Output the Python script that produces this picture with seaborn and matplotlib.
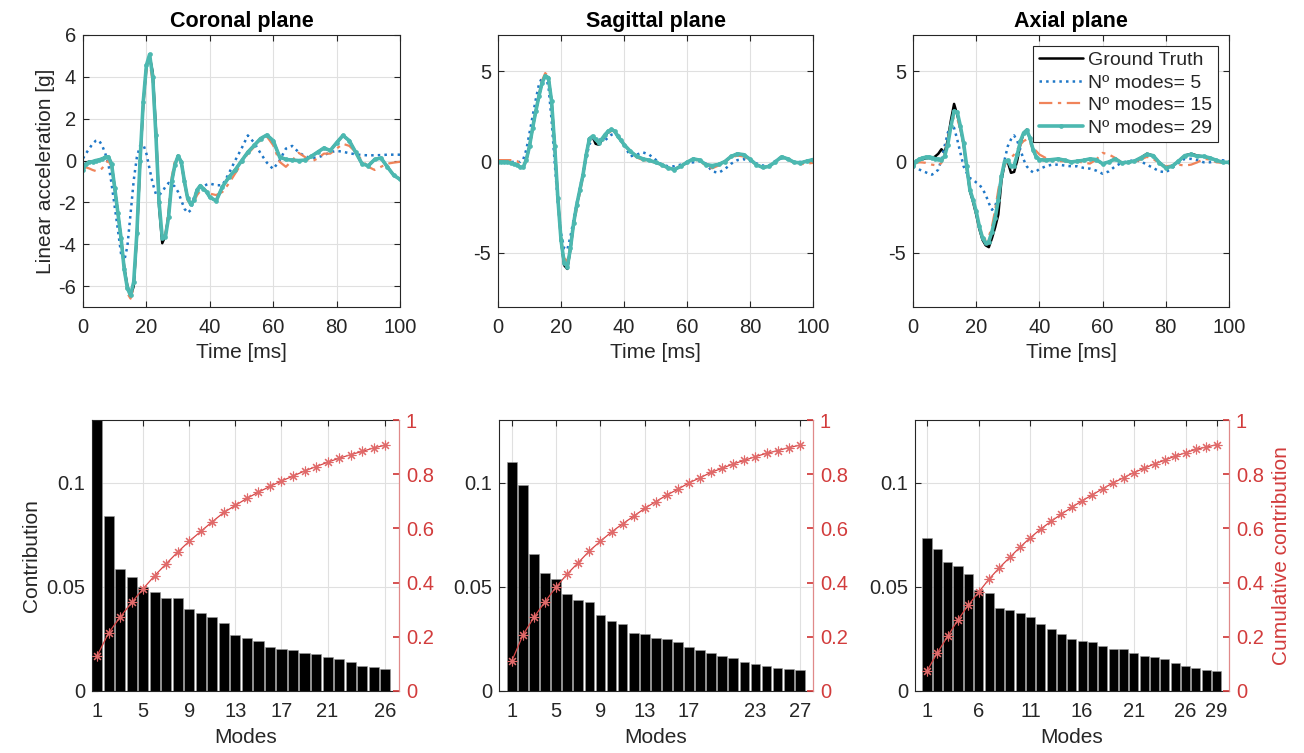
import numpy as np
import matplotlib
matplotlib.use("Agg")
import matplotlib.pyplot as plt
import seaborn as sns

# time axis shared by all signal curves [ms]
time_ms = list(range(0, 41)) + list(range(42, 101, 2))

# ---- Coronal plane signals [g] ----
cor_truth = [-0.5, -0.1, -0.05, -0.05, 0.0, 0.03, 0.08, 0.15, 0.18, -0.15,
             -1.3, -2.5, -3.7, -5.1, -6.0, -6.5, -6.0, -3.6, -0.1, 2.7,
             4.5, 5.0, 4.2, 1.5, -2.2, -3.95, -3.6, -2.6, -1.0, -0.2,
             0.22, -0.06, -1.0, -1.8, -2.1, -1.9, -1.4, -1.2, -1.35, -1.5,
             -1.75,
             -1.93, -1.25, -0.8, -0.45, -0.02, 0.4, 0.72, 1.05, 1.22, 0.95,
             0.18, 0.05, 0.02, 0.0, 0.02, 0.2, 0.4, 0.6, 0.48, 0.85,
             1.2, 0.95, 0.4, -0.15, -0.25, 0.05, 0.12, -0.3, -0.7, -0.9]
cor_five = [0.1, 0.35, 0.57, 0.8, 0.94, 0.97, 0.73, 0.35, -0.15, -1.1,
            -2.2, -3.3, -4.45, -4.8, -4.1, -2.55, -0.95, 0.17, 0.7, 0.78,
            0.33, -0.4, -1.1, -1.6, -1.65, -1.5, -1.25, -1.07, -1.13, -1.25,
            -1.5, -1.9, -2.3, -2.5, -2.37, -1.75, -1.42, -1.3, -1.23, -1.15,
            -1.1,
            -1.18, -1.18, -0.62, 0.0, 0.57, 1.2, 0.85, 0.35, -0.1, -0.41,
            0.0, 0.57, 0.7, 0.4, 0.2, 0.12, 0.15, 0.25, 0.4, 0.46,
            0.42, 0.35, 0.3, 0.26, 0.25, 0.25, 0.26, 0.28, 0.28, 0.28]
cor_fifteen = [-0.3, -0.33, -0.38, -0.45, -0.5, -0.45, -0.38, -0.15, 0.0, -0.3,
               -1.25, -2.5, -3.8, -5.2, -6.35, -6.6, -6.05, -3.65, -0.3, 2.55,
               4.3, 4.7, 3.75, 0.97, -1.9, -3.65, -3.5, -2.37, -0.78, 0.0,
               0.25, -0.15, -1.1, -1.9, -2.1, -1.97, -1.65, -1.45, -1.35, -1.45,
               -1.58,
               -1.65, -1.5, -1.1, -0.62, -0.15, 0.33, 0.65, 0.97, 1.15, 0.73,
               -0.06, -0.3, 0.0, 0.37, 0.17, -0.06, 0.1, 0.33, 0.33, 0.57,
               0.8, 0.7, 0.41, 0.0, -0.3, -0.45, -0.3, -0.15, -0.1, -0.06]
cor_full = [-0.43, -0.15, -0.08, -0.05, 0.0, 0.03, 0.08, 0.15, 0.18, -0.15,
            -1.3, -2.5, -3.7, -5.2, -6.1, -6.45, -5.8, -3.45, 0.0, 2.8,
            4.55, 5.07, 4.0, 1.2, -2.0, -3.7, -3.65, -2.7, -1.0, -0.2,
            0.22, -0.06, -1.0, -1.8, -2.1, -1.9, -1.4, -1.2, -1.35, -1.5,
            -1.75,
            -1.93, -1.25, -0.8, -0.45, -0.02, 0.4, 0.72, 1.05, 1.22, 0.95,
            0.18, 0.05, 0.02, 0.0, 0.02, 0.2, 0.4, 0.6, 0.48, 0.85,
            1.2, 0.95, 0.4, -0.15, -0.25, 0.05, 0.12, -0.3, -0.7, -0.9]

# ---- Sagittal plane signals [g] ----
sag_truth = [0.0, 0.0, 0.0, -0.02, -0.05, -0.1, -0.15, -0.28, -0.3, 0.13,
             0.87, 1.88, 2.8, 3.63, 4.37, 4.74, 4.65, 3.36, 0.87, -2.0,
             -4.3, -5.7, -5.9, -4.8, -3.4, -2.4, -1.55, -0.7, 0.4, 1.3,
             1.4, 1.0, 0.95, 1.2, 1.45, 1.65, 1.75, 1.7, 1.42, 1.2,
             0.96,
             0.59, 0.31, 0.17, 0.09, -0.02, -0.15, -0.33, -0.42, -0.24, -0.02,
             0.17, 0.1, -0.15, -0.2, -0.14, 0.02, 0.3, 0.45, 0.4, 0.15,
             -0.15, -0.3, -0.25, 0.0, 0.28, 0.17, -0.02, -0.05, 0.04, 0.13]
sag_five = [0.0, 0.0, 0.0, 0.0, 0.0, 0.0, 0.0, 0.0, 0.13, 0.68,
            1.6, 2.53, 3.45, 4.28, 4.65, 4.7, 4.2, 2.34, -0.05, -2.27,
            -3.93, -4.76, -4.85, -4.1, -3.2, -2.27, -1.44, -0.6, 0.22, 0.96,
            1.27, 1.26, 1.24, 1.22, 1.2, 1.35, 1.5, 1.55, 1.5, 1.25,
            0.96,
            0.31, 0.4, 0.53, 0.4, 0.13, -0.15, -0.24, -0.24, -0.15, -0.05,
            -0.02, 0.04, -0.09, -0.52, -0.6, -0.4, -0.1, 0.1, 0.15, 0.05,
            -0.08, -0.2, -0.2, 0.05, 0.2, 0.15, 0.0, 0.0, 0.05, 0.13]
sag_fifteen = [0.1, 0.1, 0.1, 0.1, 0.1, 0.08, 0.05, -0.1, -0.2, 0.1,
               0.8, 1.8, 2.8, 3.7, 4.5, 4.9, 4.7, 3.3, 0.8, -2.0,
               -4.2, -5.3, -5.5, -4.6, -3.5, -2.6, -1.7, -0.8, 0.3, 1.2,
               1.4, 1.3, 1.15, 1.25, 1.45, 1.6, 1.7, 1.65, 1.45, 1.2,
               0.95,
               0.55, 0.25, 0.1, 0.05, -0.05, -0.2, -0.35, -0.4, -0.2, 0.0,
               0.15, 0.05, -0.2, -0.35, -0.2, 0.0, 0.25, 0.35, 0.3, 0.1,
               -0.15, -0.3, -0.25, 0.0, 0.3, 0.15, -0.05, -0.12, -0.1, -0.05]
sag_full = [0.0, 0.0, 0.0, -0.02, -0.05, -0.1, -0.15, -0.28, -0.3, 0.13,
            0.87, 1.88, 2.8, 3.63, 4.37, 4.74, 4.65, 3.36, 0.87, -2.0,
            -4.3, -5.55, -5.78, -4.76, -3.38, -2.36, -1.53, -0.7, 0.4, 1.27,
            1.42, 1.24, 1.05, 1.27, 1.51, 1.7, 1.79, 1.7, 1.42, 1.2,
            0.96,
            0.59, 0.31, 0.17, 0.09, -0.02, -0.15, -0.33, -0.42, -0.24, -0.02,
            0.17, 0.1, -0.15, -0.2, -0.14, 0.02, 0.3, 0.45, 0.4, 0.15,
            -0.15, -0.3, -0.25, 0.0, 0.28, 0.17, -0.02, -0.05, 0.04, 0.13]

# ---- Axial plane signals [g] ----
axi_truth = [-0.3, 0.05, 0.12, 0.15, 0.2, 0.22, 0.2, 0.3, 0.45, 0.7,
             0.5, 1.2, 2.3, 3.2, 2.6, 1.9, 1.0, -0.3, -1.6, -2.2,
             -2.9, -3.7, -4.3, -4.6, -4.7, -4.2, -3.6, -2.9, -1.0, -0.1,
             0.0, -0.6, -0.55, 0.1, 1.0, 1.6, 1.78, 1.3, 0.65, 0.28,
             0.13,
             0.1, 0.13, 0.15, 0.1, 0.0, 0.05, 0.1, 0.15, 0.12, -0.1,
             0.0, 0.17, -0.05, -0.02, 0.04, 0.22, 0.45, 0.35, -0.05, -0.3,
             -0.24, 0.04, 0.35, 0.45, 0.35, 0.3, 0.22, 0.09, -0.02, -0.02]
axi_five = [-0.24, -0.33, -0.42, -0.5, -0.57, -0.65, -0.7, -0.6, -0.42, 0.13,
            0.87, 1.6, 2.06, 1.88, 1.24, 0.5, -0.24, -0.61, -0.89, -0.98,
            -1.13, -1.25, -1.49, -1.81, -2.27, -2.64, -2.45, -1.81, -0.79, 0.13,
            0.87, 1.24, 1.46, 1.15, 0.68, 0.13, -0.24, -0.46, -0.57, -0.52,
            -0.39,
            -0.24, -0.15, -0.15, -0.2, -0.24, -0.24, -0.33, -0.37, -0.48, -0.65,
            -0.52, -0.24, -0.05, 0.04, 0.09, 0.04, -0.15, -0.33, -0.52, -0.57,
            -0.33, -0.05, 0.17, 0.17, 0.09, -0.02, -0.02, 0.04, 0.09, 0.04]
axi_fifteen = [-0.15, -0.05, -0.02, -0.03, -0.05, -0.1, -0.15, -0.18, -0.2, -0.05,
               0.41, 1.24, 2.06, 2.49, 2.38, 1.79, 0.87, -0.24, -1.35, -2.08,
               -2.82, -3.56, -4.11, -4.3, -4.11, -3.56, -2.64, -1.53, -0.61, -0.15,
               0.04, 0.22, 0.41, 0.68, 0.96, 1.15, 1.24, 1.05, 0.78, 0.6,
               0.41,
               0.22, 0.09, 0.04, 0.04, -0.02, 0.04, -0.05, -0.09, 0.13, 0.5,
               0.41, 0.22, -0.02, -0.05, -0.02, 0.13, 0.28, 0.17, -0.09, -0.24,
               -0.2, -0.15, -0.2, -0.15, -0.02, 0.17, 0.13, -0.02, -0.05, -0.02]
axi_full = [-0.24, 0.04, 0.15, 0.22, 0.26, 0.28, 0.24, 0.18, 0.15, 0.13,
            0.31, 0.96, 1.97, 2.8, 2.75, 1.97, 1.05, -0.24, -1.53, -2.08,
            -2.73, -3.56, -4.2, -4.48, -4.39, -3.84, -3.1, -2.08, -0.79, 0.04,
            0.09, -0.24, -0.2, 0.41, 1.15, 1.6, 1.75, 1.33, 0.68, 0.28,
            0.13,
            0.09, 0.13, 0.17, 0.09, 0.0, 0.04, 0.09, 0.17, 0.13, -0.1,
            0.0, 0.17, -0.05, -0.02, 0.04, 0.22, 0.41, 0.35, -0.05, -0.33,
            -0.24, 0.04, 0.35, 0.41, 0.31, 0.31, 0.22, 0.09, -0.02, -0.02]

# ---- Mode contributions ----
cor_contrib = [0.131, 0.084, 0.0583, 0.0548, 0.050, 0.0476, 0.0447, 0.0444, 0.0393, 0.0372,
               0.0353, 0.0327, 0.0267, 0.0256, 0.0241, 0.0211, 0.0200, 0.0196, 0.0182, 0.0176,
               0.0161, 0.0153, 0.0137, 0.0120, 0.0113, 0.0105]
cor_cumul = [0.130, 0.215, 0.273, 0.327, 0.378, 0.426, 0.470, 0.513, 0.553, 0.589,
             0.625, 0.659, 0.685, 0.711, 0.734, 0.755, 0.775, 0.793, 0.812, 0.828,
             0.844, 0.859, 0.872, 0.884, 0.897, 0.907]
sag_contrib = [0.110, 0.099, 0.0657, 0.0567, 0.0538, 0.0465, 0.0435, 0.0427, 0.0363, 0.0335,
               0.0323, 0.0280, 0.0275, 0.0256, 0.0248, 0.0233, 0.0212, 0.0196, 0.0182, 0.0166,
               0.0157, 0.0141, 0.0131, 0.0118, 0.0109, 0.0105, 0.0101]
sag_cumul = [0.112, 0.207, 0.273, 0.330, 0.384, 0.432, 0.474, 0.517, 0.553, 0.587,
             0.617, 0.645, 0.674, 0.699, 0.723, 0.745, 0.768, 0.787, 0.807, 0.822,
             0.838, 0.851, 0.865, 0.877, 0.887, 0.898, 0.907]
axi_contrib = [0.0735, 0.0682, 0.0617, 0.0601, 0.0559, 0.0484, 0.0470, 0.0399, 0.0388, 0.0375,
               0.0353, 0.0323, 0.0296, 0.0275, 0.0249, 0.0241, 0.0235, 0.0214, 0.0203, 0.0200,
               0.0180, 0.0169, 0.0161, 0.0153, 0.0136, 0.0121, 0.0110, 0.0101, 0.0096]
axi_cumul = [0.074, 0.141, 0.202, 0.263, 0.317, 0.365, 0.413, 0.455, 0.493, 0.531,
             0.566, 0.598, 0.626, 0.653, 0.678, 0.702, 0.724, 0.747, 0.768, 0.787,
             0.806, 0.822, 0.838, 0.852, 0.867, 0.879, 0.892, 0.900, 0.909]

cor_ticks = [1, 5, 9, 13, 17, 21, 26]
sag_ticks = [1, 5, 9, 13, 17, 23, 27]
axi_ticks = [1, 6, 11, 16, 21, 26, 29]

titles = ["Coronal plane", "Sagittal plane", "Axial plane"]
legend_labels = ["Ground Truth", "Nº modes= 5", "Nº modes= 15", "Nº modes= 29"]

BLUE = "#1f78c8"
ORANGE = "#f0845a"
TEAL = "#4cb8b0"
RED = "#d23c3c"
DARK = "#262626"
GRID = "#e0e0e0"
FS = 14.5

sns.set_theme(style="white")
plt.rcParams["font.family"] = ["Liberation Sans", "DejaVu Sans"]
plt.rcParams["axes.unicode_minus"] = False

fig = plt.figure(figsize=(13.04, 7.53), dpi=100)
W, H = 1304, 753


def px_axes(x0, x1, y0, y1):
    return fig.add_axes([x0 / W, 1 - y1 / H, (x1 - x0) / W, (y1 - y0) / H])


def style_box(ax):
    for s in ax.spines.values():
        s.set_color(DARK)
        s.set_linewidth(0.8)
    ax.tick_params(direction="in", length=4, width=0.8, colors=DARK, pad=5,
                   labelsize=FS, top=True, right=True, bottom=True, left=True)
    ax.tick_params(axis="x", pad=8)
    ax.grid(True, color=GRID, linewidth=0.8)
    ax.set_axisbelow(True)


def draw_signal(ax, truth, five, fifteen, full, title, ylim, yticks):
    sns.lineplot(x=time_ms, y=truth, ax=ax, color="black", linewidth=1.8,
                 label=legend_labels[0])
    sns.lineplot(x=time_ms, y=five, ax=ax, color=BLUE, linestyle=":",
                 linewidth=1.8, label=legend_labels[1])
    sns.lineplot(x=time_ms, y=fifteen, ax=ax, color=ORANGE,
                 linestyle=(0, (6, 2.5, 1.5, 2.5)), linewidth=1.6,
                 label=legend_labels[2])
    sns.lineplot(x=time_ms, y=full, ax=ax, color=TEAL, linewidth=2.6,
                 marker="o", markersize=3.4, markeredgewidth=0,
                 label=legend_labels[3])
    if ax.get_legend() is not None:
        ax.get_legend().remove()
    ax.set_xlim(0, 100)
    ax.set_ylim(*ylim)
    ax.set_xticks([0, 20, 40, 60, 80, 100])
    ax.set_yticks(yticks)
    ax.set_title(title, fontsize=FS + 1, fontweight="bold", color="black", pad=6)
    ax.set_xlabel("Time [ms]", fontsize=FS + 0.5, color=DARK, labelpad=4)
    style_box(ax)


def draw_modes(ax, contrib, cumul, ticks, xlim):
    modes = np.arange(1, len(contrib) + 1)
    sns.barplot(x=modes, y=contrib, ax=ax, native_scale=True, color="black",
                saturation=1, width=0.88, edgecolor="#9a9a9a", linewidth=0.4)
    ax.set_xlim(*xlim)
    ax.set_ylim(0, 0.13)
    ax.set_xticks(ticks)
    ax.set_xticklabels([str(t) for t in ticks])
    ax.set_yticks([0, 0.05, 0.1])
    ax.set_yticklabels(["0", "0.05", "0.1"])
    ax.set_xlabel("Modes", fontsize=FS + 0.5, color=DARK, labelpad=5)
    ax.set_ylabel("")
    style_box(ax)
    ax.tick_params(right=False)
    ax.spines["right"].set_visible(False)

    ax2 = ax.twinx()
    sns.lineplot(x=modes, y=cumul, ax=ax2, color="#d84545", linewidth=0.9,
                 marker=(8, 2, 0), markersize=7, markeredgecolor="#e06a6a",
                 markeredgewidth=0.8)
    ax2.set_ylim(0, 1)
    ax2.set_yticks([0, 0.2, 0.4, 0.6, 0.8, 1.0])
    ax2.set_yticklabels(["0", "0.2", "0.4", "0.6", "0.8", "1"])
    ax2.set_ylabel("")
    for name, s in ax2.spines.items():
        s.set_visible(name == "right")
    ax2.spines["right"].set_color("#e08a8a")
    ax2.spines["right"].set_linewidth(0.9)
    ax2.tick_params(axis="y", direction="in", length=4, colors=RED, labelsize=FS, pad=5)
    ax2.grid(False)
    return ax2


# top row: reconstructed signals
ax_c = px_axes(83, 400, 35, 307)
ax_s = px_axes(498, 813, 35, 307)
ax_a = px_axes(913, 1229, 35, 307)
draw_signal(ax_c, cor_truth, cor_five, cor_fifteen, cor_full, titles[0], (-7, 6),
            [-6, -4, -2, 0, 2, 4, 6])
draw_signal(ax_s, sag_truth, sag_five, sag_fifteen, sag_full, titles[1], (-8, 7), [-5, 0, 5])
draw_signal(ax_a, axi_truth, axi_five, axi_fifteen, axi_full, titles[2], (-8, 7), [-5, 0, 5])
ax_c.set_ylabel("Linear acceleration [g]", fontsize=FS + 0.5, color=DARK, labelpad=2)
leg = ax_a.legend(loc="upper right", fontsize=FS - 0.5, frameon=True, fancybox=False,
                  edgecolor=DARK, framealpha=1, handlelength=2.3, labelspacing=0.25,
                  borderpad=0.3, handletextpad=0.25, borderaxespad=0.55)
leg.get_frame().set_linewidth(0.8)

# bottom row: mode contributions
bx_c = px_axes(92, 399, 420, 691)
bx_s = px_axes(499, 813, 420, 691)
bx_a = px_axes(915, 1229, 420, 691)
draw_modes(bx_c, cor_contrib, cor_cumul, cor_ticks, (0.55, 27.2))
draw_modes(bx_s, sag_contrib, sag_cumul, sag_ticks, (-0.17, 28.2))
r_a = draw_modes(bx_a, axi_contrib, axi_cumul, axi_ticks, (-0.16, 30.2))
bx_c.set_ylabel("Contribution", fontsize=FS + 0.5, color=DARK, labelpad=4)
r_a.set_ylabel("Cumulative contribution", fontsize=FS + 0.5, color=RED, labelpad=6)

fig.savefig("out.png", dpi=100, facecolor="white")
